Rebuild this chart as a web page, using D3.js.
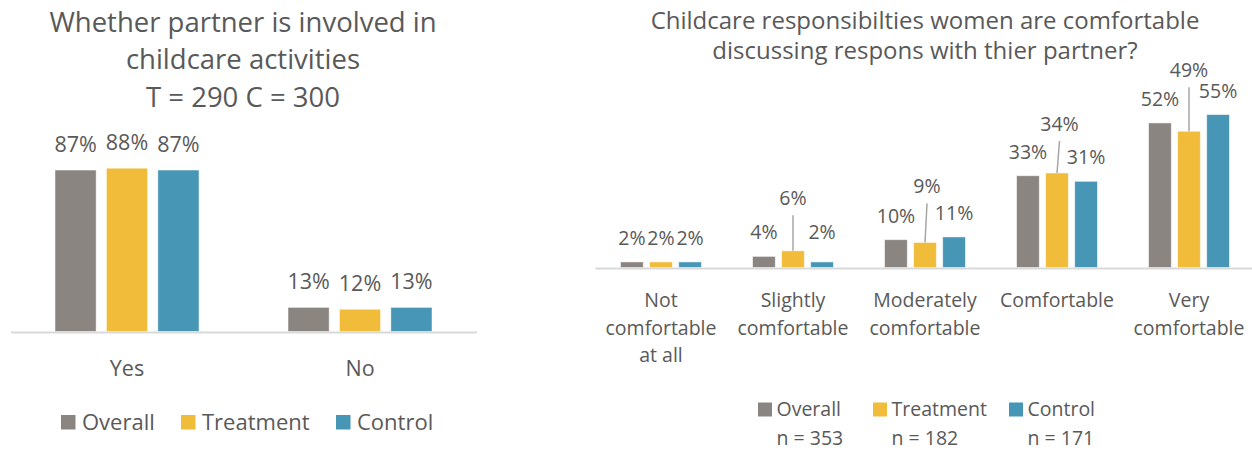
<!DOCTYPE html>
<html lang="en">
<head>
<meta charset="UTF-8">
<title>Childcare charts</title>
<script src="https://d3js.org/d3.v7.min.js"></script>
<style>
  body { margin: 0; background: #fff; }
  text { font-family: "Open Sans", "Noto Sans", sans-serif; fill: #595959; }
</style>
</head>
<body>
<script>
// data
var seriesNames = ["Overall", "Treatment", "Control"];
var seriesColors = ["#8B8581", "#F1BC3A", "#4796B5"];

var leftCategories = ["Yes", "No"];
var leftOverall = [87, 13];
var leftTreatment = [88, 12];
var leftControl = [87, 13];
var leftTitle = ["Whether partner is involved in", "childcare activities", "T = 290 C = 300"];

var rightCategories = ["Not\ncomfortable\nat all", "Slightly\ncomfortable", "Moderately\ncomfortable", "Comfortable", "Very\ncomfortable"];
var rightOverall = [2, 4, 10, 33, 52];
var rightTreatment = [2, 6, 9, 34, 49];
var rightControl = [2, 2, 11, 31, 55];
var rightTitle = ["Childcare responsibilties women are comfortable", "discussing respons with thier partner?"];
var rightSampleSizes = ["n = 353", "n = 182", "n = 171"];

// hand-moved data labels in the right chart (px lifted above normal spot)
var rightLift = [[0, 0, 0, 0, 0], [0, 28.6, 32, 25, 37], [0, 6, 0, 0, 0]];
var rightShift = [[0, 0, 0, 0, 0], [0, 0, 2, 2.5, 0], [0, 0, 0, 0, 0]];

var width = 1252, height = 450;
var svg = d3.select("body").append("svg").attr("width", width).attr("height", height);

function drawBars(g, cats, series, x0, x1, y, labelSize, labelGap, lift, shift) {
  var groups = g.selectAll(".grp").data(cats).enter().append("g")
    .attr("transform", function(d) { return "translate(" + (x0(d) + x0.bandwidth() / 2) + ",0)"; });
  groups.each(function(cat, ci) {
    var gg = d3.select(this);
    series.forEach(function(vals, si) {
      var v = vals[ci];
      var bx = x1(seriesNames[si]);
      gg.append("rect")
        .attr("x", bx).attr("y", y(v))
        .attr("width", x1.bandwidth()).attr("height", y(0) - y(v))
        .attr("fill", seriesColors[si])
        .attr("stroke", "#ffffff").attr("stroke-opacity", 0.6).attr("stroke-width", 0.8);
      var cx = bx + x1.bandwidth() / 2;
      var up = lift ? lift[si][ci] : 0;
      var dx = shift ? shift[si][ci] : 0;
      var ly = y(v) - labelGap - up;
      if (up > 12) {
        gg.append("line")
          .attr("x1", cx + dx).attr("y1", ly + 10)
          .attr("x2", cx).attr("y2", y(v))
          .attr("stroke", "#A6A6A6").attr("stroke-width", 1.5);
      }
      gg.append("text")
        .attr("x", cx + dx).attr("y", ly)
        .attr("text-anchor", "middle")
        .attr("font-size", labelSize)
        .text(v + "%");
    });
  });
}

// ---------- left chart ----------
var gl = svg.append("g");
var lx0 = d3.scaleBand().domain(leftCategories).range([10.5, 476.5]).padding(0);
var lx1 = d3.scaleBand().domain(seriesNames).range([-72, 72]).paddingInner(0.2);
var ly = d3.scaleLinear().domain([0, 100]).range([331.5, 145.9]);

gl.selectAll(".ttl").data(leftTitle).enter().append("text")
  .attr("x", 243).attr("y", function(d, i) { return 31.5 + i * 37.5; })
  .attr("text-anchor", "middle").attr("font-size", 27.5).text(function(d) { return d; });

drawBars(gl, leftCategories, [leftOverall, leftTreatment, leftControl], lx0, lx1, ly, 21.5, 18, null, null);

var lAxis = gl.append("g").attr("transform", "translate(0,332)")
  .call(d3.axisBottom(lx0).tickSize(0).tickPadding(0));
lAxis.select(".domain").attr("stroke", "#D9D9D9").attr("stroke-width", 2);
lAxis.selectAll(".tick text").attr("y", 44).attr("dy", 0)
  .attr("font-size", 21.5).attr("font-family", null).attr("fill", "#595959");

var lLegX = [61, 181, 336];
var lLeg = gl.selectAll(".lleg").data(seriesNames).enter().append("g")
  .attr("transform", function(d, i) { return "translate(" + lLegX[i] + ",0)"; });
lLeg.append("rect").attr("x", 0).attr("y", 415).attr("width", 14.5).attr("height", 14.5)
  .attr("fill", function(d, i) { return seriesColors[i]; });
lLeg.append("text").attr("x", 21).attr("y", 430).attr("font-size", 22).text(function(d) { return d; });

// ---------- right chart ----------
var gr = svg.append("g");
var rx0 = d3.scaleBand().domain(rightCategories).range([595, 1255]).padding(0);
var rx1 = d3.scaleBand().domain(seriesNames).range([-40.4, 40.4]).paddingInner(0.22);
var ry = d3.scaleLinear().domain([0, 60]).range([267.5, 100.7]);

gr.selectAll(".ttl").data(rightTitle).enter().append("text")
  .attr("x", 925).attr("y", function(d, i) { return 28.5 + i * 30.5; })
  .attr("text-anchor", "middle").attr("font-size", 24).text(function(d) { return d; });

drawBars(gr, rightCategories, [rightOverall, rightTreatment, rightControl], rx0, rx1, ry, 19.5, 17, rightLift, rightShift);

var rAxis = gr.append("g").attr("transform", "translate(0,268)")
  .call(d3.axisBottom(rx0).tickSize(0).tickPadding(0));
rAxis.select(".domain").attr("stroke", "#D9D9D9").attr("stroke-width", 2);
rAxis.selectAll(".tick text").remove();
rAxis.selectAll(".tick").each(function(d) {
  var t = d3.select(this).append("text").attr("text-anchor", "middle")
    .attr("font-size", 19.5).attr("fill", "#595959");
  d.split("\n").forEach(function(line, i) {
    t.append("tspan").attr("x", 0).attr("y", 39 + i * 27.5).text(line);
  });
});

var rLegX = [758, 873, 1009];
var rLeg = gr.selectAll(".rleg").data(seriesNames).enter().append("g")
  .attr("transform", function(d, i) { return "translate(" + rLegX[i] + ",0)"; });
rLeg.append("rect").attr("x", 0).attr("y", 402.5).attr("width", 14).attr("height", 14)
  .attr("fill", function(d, i) { return seriesColors[i]; });
rLeg.append("text").attr("x", 18.5).attr("y", 416).attr("font-size", 19.5).text(function(d) { return d; });
rLeg.append("text").attr("x", 18.5).attr("y", 445).attr("font-size", 19.5)
  .text(function(d, i) { return rightSampleSizes[i]; });
</script>
</body>
</html>
